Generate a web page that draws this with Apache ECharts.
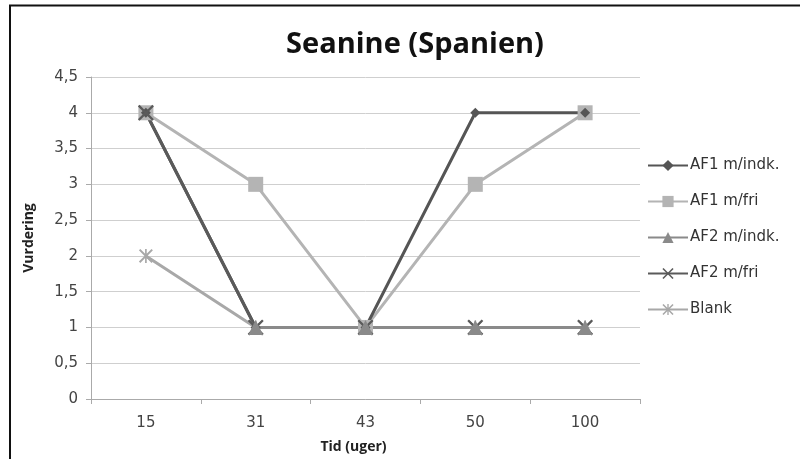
<!DOCTYPE html>
<html><head><meta charset="utf-8">
<script src="https://cdn.jsdelivr.net/npm/echarts@6/dist/echarts.min.js"></script>
<style>html,body{margin:0;padding:0;background:#fff}#c{width:800px;height:459px}</style>
</head><body><div id="c"></div>
<script>
var categories = ['15', '31', '43', '50', '100'];
var af1Indk = [4, 1, 1, 4, 4];
var af1Fri = [4, 3, 1, 3, 4];
var af2Indk = [null, 1, 1, 1, 1];
var af2Fri = [4, 1, 1, 1, 1];
var blank = [2, 1, 1, 1, 1];
var seriesNames = ['AF1 m/indk.', 'AF1 m/fri', 'AF2 m/indk.', 'AF2 m/fri', 'Blank'];

var xPath = 'path://M1,0 L5,4 L9,0 L10,1 L6,5 L10,9 L9,10 L5,6 L1,10 L0,9 L4,5 L0,1 Z';
var starPath = 'path://M1,0 L5,4 L9,0 L10,1 L6,5 L10,9 L9,10 L5,6 L1,10 L0,9 L4,5 L0,1 Z M4.4,0 L5.6,0 L5.6,10 L4.4,10 Z';

var chart = echarts.init(document.getElementById('c'), null, {renderer: 'canvas'});
function mk(name, data, color, symbol, size, width) {
  return {
    name: name, type: 'line', data: data, symbol: symbol, symbolSize: size,
    showSymbol: true, connectNulls: false,
    lineStyle: {color: color, width: width},
    itemStyle: {color: color, borderWidth: 0},
    emphasis: {disabled: true}
  };
}
chart.setOption({
  animation: false,
  title: {
    text: 'Seanine (Spanien)', left: 410, top: 25, textAlign: 'center',
    textStyle: {fontFamily: 'Open Sans', fontWeight: 'bold', fontSize: 29, color: '#111'}
  },
  graphic: [{
    type: 'polyline', shape: {points: [[10, 459], [10, 5.5], [800, 5.5]]},
    style: {stroke: '#111', lineWidth: 2, fill: null}
  }],
  legend: {
    orient: 'vertical', left: 642, top: 153, itemGap: 21, itemWidth: 40, itemHeight: 14,
    data: seriesNames,
    textStyle: {fontFamily: 'DejaVu Sans', fontSize: 15, color: '#333', padding: [0, 0, 0, -3]}
  },
  grid: {left: 91, top: 77, width: 549, height: 323, containLabel: false},
  xAxis: {
    type: 'category', data: categories, boundaryGap: true,
    name: 'Tid (uger)', nameLocation: 'middle', nameGap: 41,
    nameTextStyle: {fontFamily: 'Open Sans', fontWeight: 'bold', fontSize: 14, color: '#222', padding: [0, 24, 0, 0]},
    axisLine: {lineStyle: {color: '#aaa', width: 1}},
    axisTick: {show: true, length: 5, inside: false, lineStyle: {color: '#aaa'}},
    axisLabel: {fontFamily: 'DejaVu Sans', fontSize: 15, color: '#444', margin: 17},
    splitLine: {show: false}
  },
  yAxis: {
    type: 'value', min: 0, max: 4.5, interval: 0.5,
    name: 'Vurdering', nameLocation: 'middle', nameGap: 55,
    nameTextStyle: {fontFamily: 'Open Sans', fontWeight: 'bold', fontSize: 14, color: '#222'},
    axisLine: {show: true, lineStyle: {color: '#aaa', width: 1}},
    axisTick: {show: true, length: 5, lineStyle: {color: '#aaa'}},
    axisLabel: {fontFamily: 'DejaVu Sans', fontSize: 15, color: '#444', margin: 13,
      formatter: function (v) { return String(v).replace('.', ','); }},
    splitLine: {show: true, lineStyle: {color: '#cfcfcf', width: 1}}
  },
  series: [
    mk(seriesNames[4], blank, '#a8a8a8', starPath, 14, 3),
    mk(seriesNames[1], af1Fri, '#b4b4b4', 'rect', 15, 3),
    mk(seriesNames[0], af1Indk, '#555555', 'diamond', 10, 3),
    mk(seriesNames[3], af2Fri, '#5a5a5a', xPath, 16, 3),
    mk(seriesNames[2], af2Indk, '#8a8a8a', 'triangle', 15, 3)
  ]
});
</script></body></html>
